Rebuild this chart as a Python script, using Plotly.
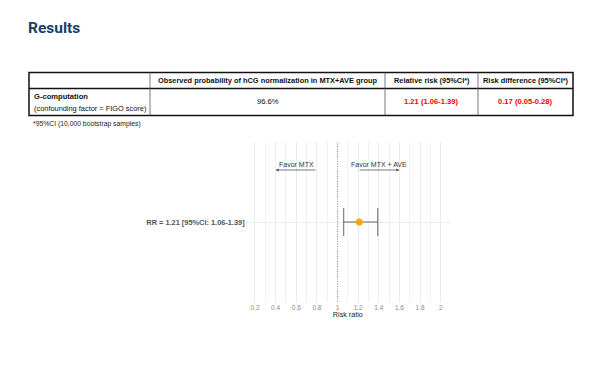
import plotly.graph_objects as go

# ---- data ----
title_text = "Results"
table_headers = ["", "Observed probability of hCG normalization in MTX+AVE group",
                 "Relative risk (95%CI*)", "Risk difference (95%CI*)"]
method_name = "G-computation"
method_note = "(confounding factor = FIGO score)"
observed_prob = "96.6%"
rr_text = "1.21 (1.06-1.39)"
rd_text = "0.17 (0.05-0.28)"
footnote = "*95%CI (10,000 bootstrap samples)"

rr_est = [1.21]
rr_low = [1.06]
rr_high = [1.39]
row_labels = ["RR = 1.21 [95%CI: 1.06-1.39]"]
x_ticks = [0.2, 0.4, 0.6, 0.8, 1, 1.2, 1.4, 1.6, 1.8, 2]
x_ticklabels = ["0.2", "0.4", "0.6", "0.8", "1", "1.2", "1.4", "1.6", "1.8", "2"]

W, H = 600, 365
def px(x): return x / W
def py(y): return 1 - y / H

FONT = "Liberation Sans, Arial, sans-serif"

fig = go.Figure()

yv = [0] * len(rr_est)
fig.add_trace(go.Scatter(
    x=rr_est, y=yv, mode="markers",
    marker=dict(color="#FFA500", size=7, line=dict(width=0)),
    error_x=dict(type="data", symmetric=False,
                 array=[h - e for h, e in zip(rr_high, rr_est)],
                 arrayminus=[e - l for e, l in zip(rr_est, rr_low)],
                 color="#666666", thickness=1, width=14),
    showlegend=False, hoverinfo="skip"))

shapes = []
# reference line at 1
shapes.append(dict(type="line", xref="x", yref="y domain", x0=1, x1=1, y0=0, y1=1,
                   line=dict(color="#a0a0a0", width=1.2, dash="1px,1.5px"), layer="above"))

# table lines
L, R, T, HB, B = 29, 573, 72.5, 88.5, 115.5
shapes.append(dict(type="rect", xref="paper", yref="paper", x0=px(L), x1=px(R), y0=py(B), y1=py(T),
                   line=dict(color="#111111", width=1.5)))
shapes.append(dict(type="line", xref="paper", yref="paper", x0=px(L), x1=px(R), y0=py(HB), y1=py(HB),
                   line=dict(color="#111111", width=1.5)))
for cx in [150, 385, 478]:
    shapes.append(dict(type="line", xref="paper", yref="paper", x0=px(cx), x1=px(cx), y0=py(B), y1=py(T),
                       line=dict(color="#555555", width=0.8)))

ann = []
ann.append(dict(text="<b>" + title_text + "</b>", x=px(26), y=py(28), xref="paper", yref="paper",
                xanchor="left", yanchor="middle", showarrow=False,
                font=dict(family="Roboto, sans-serif", size=15.5, color="#173f6c")))
col_centers = [89.5, 267.5, 431.5, 525.5]
for cxc, h in zip(col_centers, table_headers):
    if h:
        ann.append(dict(text="<b>" + h + "</b>", x=px(cxc), y=py(80.5), xref="paper", yref="paper",
                        xanchor="center", yanchor="middle", showarrow=False,
                        font=dict(family=FONT, size=7.4, color="#111111")))
ann.append(dict(text="<b>" + method_name + "</b>", x=px(32), y=py(96), xref="paper", yref="paper",
                xanchor="left", yanchor="middle", showarrow=False,
                font=dict(family=FONT, size=7.6, color="#111111")))
ann.append(dict(text=method_note, x=px(32), y=py(108), xref="paper", yref="paper",
                xanchor="left", yanchor="middle", showarrow=False,
                font=dict(family=FONT, size=7.4, color="#111111")))
ann.append(dict(text=observed_prob, x=px(col_centers[1]), y=py(102), xref="paper", yref="paper",
                xanchor="center", yanchor="middle", showarrow=False,
                font=dict(family=FONT, size=7.6, color="#111111")))
for cxc, t in [(col_centers[2], rr_text), (col_centers[3], rd_text)]:
    ann.append(dict(text="<b>" + t + "</b>", x=px(cxc), y=py(102), xref="paper", yref="paper",
                    xanchor="center", yanchor="middle", showarrow=False,
                    font=dict(family=FONT, size=7.6, color="#ff0000")))
ann.append(dict(text=footnote, x=px(31), y=py(123.5), xref="paper", yref="paper",
                xanchor="left", yanchor="middle", showarrow=False,
                font=dict(family=FONT, size=6.8, color="#222222")))

# forest annotations (data coords)
ann.append(dict(text="Favor MTX", x=0.6, y=0.43, xref="x", yref="y", showarrow=False,
                xanchor="center", yanchor="middle", font=dict(family=FONT, size=7, color="#333333")))
ann.append(dict(text="Favor MTX + AVE", x=1.4, y=0.43, xref="x", yref="y", showarrow=False,
                xanchor="center", yanchor="middle", font=dict(family=FONT, size=7, color="#333333")))
ann.append(dict(text="", x=0.4, y=0.39, ax=0.8, ay=0.39, xref="x", yref="y", axref="x", ayref="y",
                showarrow=True, arrowhead=2, arrowsize=0.8, arrowwidth=0.8, arrowcolor="#555555"))
ann.append(dict(text="", x=1.6, y=0.39, ax=1.2, ay=0.39, xref="x", yref="y", axref="x", ayref="y",
                showarrow=True, arrowhead=2, arrowsize=0.8, arrowwidth=0.8, arrowcolor="#555555"))

fig.update_layout(
    width=W, height=H, margin=dict(l=0, r=0, t=0, b=0),
    paper_bgcolor="white", plot_bgcolor="white",
    shapes=shapes, annotations=ann, showlegend=False,
    xaxis=dict(domain=[px(245.7), px(450)], range=[0.11, 2.09],
               tickvals=x_ticks, ticktext=x_ticklabels, ticks="",
               tickfont=dict(family=FONT, size=6.5, color="#8a8a8a"),
               showgrid=True, gridcolor="#ebebeb", gridwidth=0.8, zeroline=False, showline=False,
               minor=dict(tickvals=[0.3, 0.5, 0.7, 0.9, 1.1, 1.3, 1.5, 1.7, 1.9],
                          showgrid=True, gridcolor="#f2f2f2", gridwidth=0.8),
               title=dict(text="Risk ratio", font=dict(family=FONT, size=7.2, color="#222222"), standoff=2),
               fixedrange=True),
    yaxis=dict(domain=[1 - 302 / H, 1 - 142 / H], range=[-0.6, 0.6],
               tickvals=yv, ticktext=["<b>" + s + "</b>" for s in row_labels], ticks="",
               tickfont=dict(family=FONT, size=7.4, color="#555555"),
               showgrid=True, gridcolor="#ebebeb", gridwidth=0.8, zeroline=False, showline=False,
               fixedrange=True),
)

fig.write_html("out.html", config={"displayModeBar": False},
               post_script="document.body.style.margin='0';document.body.style.padding='0';")
